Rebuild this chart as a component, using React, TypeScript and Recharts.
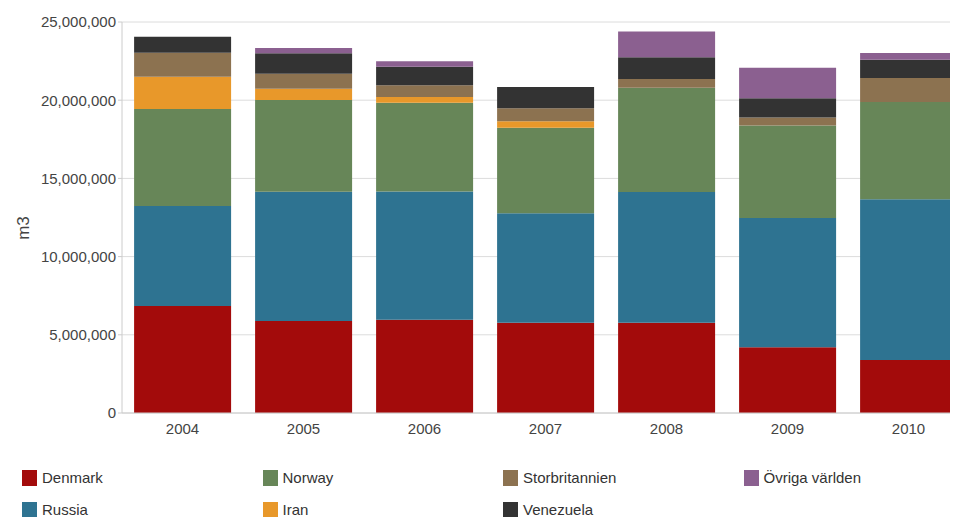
import React from "react";
import { BarChart, Bar, XAxis, YAxis, CartesianGrid } from "recharts";

const years = ["2004", "2005", "2006", "2007", "2008", "2009", "2010"];
const denmark = [6.84, 5.88, 5.97, 5.77, 5.77, 4.2, 3.39];
const russia = [6.4, 8.27, 8.2, 7.0, 8.36, 8.27, 10.27];
const norway = [6.2, 5.86, 5.67, 5.47, 6.67, 5.92, 6.22];
const iran = [2.06, 0.73, 0.36, 0.41, 0, 0, 0];
const storbritannien = [1.54, 0.95, 0.75, 0.83, 0.56, 0.51, 1.54];
const venezuela = [1.02, 1.31, 1.19, 1.36, 1.38, 1.22, 1.17];
const ovriga = [0, 0.34, 0.35, 0, 1.66, 1.96, 0.43];
const yTicks = [0, 5000000, 10000000, 15000000, 20000000, 25000000];

const series = [
  { key: "Denmark", values: denmark, color: "#A30B0B" },
  { key: "Russia", values: russia, color: "#2E7391" },
  { key: "Norway", values: norway, color: "#678658" },
  { key: "Iran", values: iran, color: "#E8982A" },
  { key: "Storbritannien", values: storbritannien, color: "#8C7250" },
  { key: "Venezuela", values: venezuela, color: "#333333" },
  { key: "Övriga världen", values: ovriga, color: "#8B6090" },
];

const legendColumns = [
  ["Denmark", "Russia"],
  ["Norway", "Iran"],
  ["Storbritannien", "Venezuela"],
  ["Övriga världen"],
];

const data = years.map((y, i) => {
  const row: Record<string, string | number> = { year: y };
  series.forEach((s) => {
    row[s.key] = Math.round(s.values[i] * 1000000);
  });
  return row;
});

const font = "'Liberation Sans', Arial, sans-serif";

const AxisTitle = () => (
  <text
    x={0}
    y={0}
    transform="translate(15, 220) rotate(-90)"
    textAnchor="middle"
    dominantBaseline="central"
    fill="#444444"
    fontSize={17}
    fontFamily={font}
  >
    m3
  </text>
);

export default function App() {
  const colorOf = (k: string) => series.find((s) => s.key === k)!.color;
  return (
    <div style={{ width: 950, height: 509, overflow: "hidden", position: "relative", fontFamily: font }}>
      <BarChart
        width={970}
        height={440}
        data={data}
        margin={{ top: 14, right: 9, bottom: 5, left: 0 }}
        barCategoryGap="10%"
      >
        <CartesianGrid vertical={false} stroke="#dcdcdc" />
        <XAxis
          dataKey="year"
          height={30}
          tickLine={false}
          axisLine={{ stroke: "#cccccc" }}
          tick={{ fill: "#444444", fontSize: 15, fontFamily: font }}
          tickMargin={4}
        />
        <YAxis
          width={114}
          domain={[0, 25000000]}
          ticks={yTicks}
          tickFormatter={(v: number) => v.toLocaleString("en-US")}
          axisLine={{ stroke: "#cccccc" }}
          tickLine={{ stroke: "#cccccc" }}
          tickSize={4}
          tick={{ fill: "#444444", fontSize: 15, fontFamily: font }}
          label={{ content: () => <AxisTitle /> }}
        />
        {series.map((s) => (
          <Bar key={s.key} dataKey={s.key} stackId="a" fill={s.color} isAnimationActive={false} />
        ))}
      </BarChart>
      {legendColumns.map((col, ci) =>
        col.map((name, ri) => (
          <div
            key={name}
            style={{
              position: "absolute",
              left: 14 + ci * 240.5,
              top: 461 + ri * 32,
              display: "flex",
              alignItems: "center",
              fontSize: 15,
              color: "#333333",
            }}
          >
            <div style={{ width: 15, height: 16, background: colorOf(name), marginRight: 5 }} />
            <span>{name}</span>
          </div>
        ))
      )}
    </div>
  );
}
